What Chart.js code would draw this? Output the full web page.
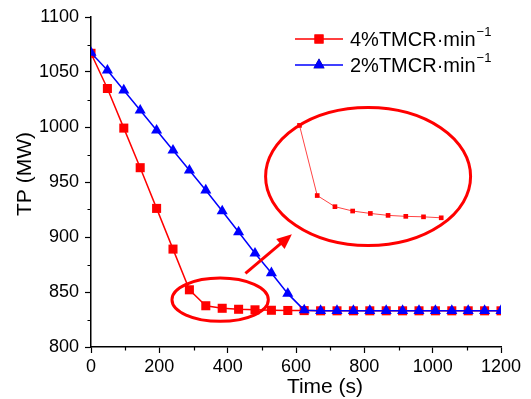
<!DOCTYPE html>
<html>
<head>
<script src="https://cdn.jsdelivr.net/npm/chart.js@4.4.0/dist/chart.umd.min.js"></script>
<title>TP ramp</title>
<style>
  body { margin: 0; background: #fff; }
  #wrap { width: 531px; height: 399px; }
</style>
</head>
<body>
<div id="wrap"><canvas id="myChart" width="531" height="399"></canvas></div>
<script>
// time axis (s)
var times = [0, 48, 96, 144, 192, 240, 288, 336, 384, 432, 480, 528, 576, 624, 672,
             720, 768, 816, 864, 912, 960, 1008, 1056, 1104, 1152, 1200];
// 4%TMCR/min
var tp4 = [1067, 1035, 999, 963, 926, 889, 852, 837.5, 835.2, 834.3, 833.8, 833.4, 833.2,
           833.1, 832.9, 832.9, 832.9, 832.9, 832.9, 832.9, 832.9, 832.9, 832.9, 832.9, 832.9, 832.9];
// 2%TMCR/min
var tp2 = [1067.6, 1051.5, 1033.4, 1015.2, 997, 978.8, 960.6, 942.5, 923.6, 904.5, 885.2,
           867.3, 848.5, 833.5, 833, 833, 833, 833, 833, 833, 833, 833, 833, 833, 833, 833];
var xTicks = [0, 200, 400, 600, 800, 1000, 1200];
var yTicks = [800, 850, 900, 950, 1000, 1050, 1100];
var labels = ['4%TMCR\u00b7min', '2%TMCR\u00b7min'];

// zoomed-in part shown in the big ellipse (points 6..14 of the 4% curve)
var insetFrom = 6, insetTo = 14;

// annotation shapes in data units
var marks = {
    small: { cx: 378, cy: 843, rx: 141, ry: 19.7 },
    big: { cx: 811, cy: 955, rx: 300, ry: 62.7 },
    arrow: { x0: 452, y0: 867, x1: 588, y1: 902.5 }
};

var FONT = 'Liberation Sans, Arial, sans-serif';

function pts(xs, ys) {
    var out = [];
    for (var i = 0; i < xs.length; i++) out.push({ x: xs[i], y: ys[i] });
    return out;
}

var decor = {
    id: 'decor',
    afterDraw: function(chart) {
        var ctx = chart.ctx;
        var sx = chart.scales.x, sy = chart.scales.y;
        var area = chart.chartArea;
        ctx.save();

        // minor ticks
        ctx.strokeStyle = '#000';
        ctx.lineWidth = 1.2;
        ctx.beginPath();
        for (var v = 100; v < 1200; v += 200) {
            var px = Math.round(sx.getPixelForValue(v)) + 0.5;
            ctx.moveTo(px, area.bottom);
            ctx.lineTo(px, area.bottom + 3.5);
        }
        for (var w = 825; w < 1100; w += 50) {
            var py = Math.round(sy.getPixelForValue(w)) + 0.5;
            ctx.moveTo(area.left, py);
            ctx.lineTo(area.left - 3.5, py);
        }
        ctx.stroke();

        // ellipses
        ctx.strokeStyle = '#ff0000';
        ctx.lineWidth = 3;
        [marks.small, marks.big].forEach(function(e) {
            var cx = sx.getPixelForValue(e.cx), cy = sy.getPixelForValue(e.cy);
            var rx = Math.abs(sx.getPixelForValue(e.cx + e.rx) - cx);
            var ry = Math.abs(sy.getPixelForValue(e.cy + e.ry) - cy);
            ctx.beginPath();
            ctx.ellipse(cx, cy, rx, ry, 0, 0, Math.PI * 2);
            ctx.stroke();
        });

        // arrow
        var a = marks.arrow;
        var x0 = sx.getPixelForValue(a.x0), y0 = sy.getPixelForValue(a.y0);
        var x1 = sx.getPixelForValue(a.x1), y1 = sy.getPixelForValue(a.y1);
        var ang = Math.atan2(y1 - y0, x1 - x0);
        var head = 15;
        ctx.beginPath();
        ctx.moveTo(x0, y0);
        ctx.lineTo(x1 - Math.cos(ang) * head * 0.8, y1 - Math.sin(ang) * head * 0.8);
        ctx.stroke();
        ctx.fillStyle = '#ff0000';
        ctx.beginPath();
        ctx.moveTo(x1, y1);
        ctx.lineTo(x1 - head * Math.cos(ang) + 6.5 * Math.sin(ang), y1 - head * Math.sin(ang) - 6.5 * Math.cos(ang));
        ctx.lineTo(x1 - head * Math.cos(ang) - 6.5 * Math.sin(ang), y1 - head * Math.sin(ang) + 6.5 * Math.cos(ang));
        ctx.closePath();
        ctx.fill();

        // legend
        var lx0 = 295, lx1 = 343, tx = 350;
        var rowsY = [39, 65];
        for (var i = 0; i < 2; i++) {
            var ds = chart.data.datasets[i];
            var y = rowsY[i];
            ctx.strokeStyle = ds.borderColor;
            ctx.lineWidth = 1.5;
            ctx.beginPath();
            ctx.moveTo(lx0, y);
            ctx.lineTo(lx1, y);
            ctx.stroke();
            Chart.helpers.drawPoint(ctx, {
                pointStyle: ds.pointStyle, radius: ds.pointRadius, borderWidth: 0
            }, (lx0 + lx1) / 2, y);
            ctx.fillStyle = ds.backgroundColor;
            ctx.fill();
            ctx.fillStyle = '#000';
            ctx.textBaseline = 'middle';
            ctx.textAlign = 'left';
            ctx.font = '20px ' + FONT;
            ctx.fillText(labels[i], tx, y + 1);
            var wdt = ctx.measureText(labels[i]).width;
            ctx.font = '13px ' + FONT;
            ctx.fillText('\u22121', tx + wdt + 1, y - 7);
        }

        // axis titles
        ctx.fillStyle = '#000';
        ctx.font = '21px ' + FONT;
        ctx.textAlign = 'center';
        ctx.textBaseline = 'middle';
        ctx.fillText('Time (s)', 325, 387);
        ctx.translate(25, 174);
        ctx.rotate(-Math.PI / 2);
        ctx.fillText('TP (MW)', 0, 0);
        ctx.restore();
    }
};

function plain(v) { return String(v); }

var ctx = document.getElementById('myChart').getContext('2d');
var myChart = new Chart(ctx, {
    type: 'line',
    data: {
        datasets: [
            {
                label: labels[0],
                data: pts(times, tp4),
                borderColor: '#ff0000',
                backgroundColor: '#ff0000',
                borderWidth: 1.5,
                pointStyle: 'rect',
                pointRadius: 6.4,
                pointBorderWidth: 0,
                order: 2
            },
            {
                label: labels[1],
                data: pts(times, tp2),
                borderColor: '#0000ff',
                backgroundColor: '#0000ff',
                borderWidth: 1.5,
                pointStyle: 'triangle',
                pointRadius: 6.4,
                pointBorderWidth: 0,
                order: 1
            },
            {
                label: 'inset',
                data: pts(times.slice(insetFrom, insetTo + 1), tp4.slice(insetFrom, insetTo + 1)),
                xAxisID: 'xi',
                yAxisID: 'yi',
                borderColor: '#ff4444',
                backgroundColor: '#ff0000',
                borderWidth: 1,
                pointStyle: 'rect',
                pointRadius: 3.3,
                pointBorderWidth: 0,
                order: 3
            }
        ]
    },
    options: {
        responsive: false,
        animation: false,
        layout: { padding: { top: 17, right: 30, left: 0, bottom: 0 } },
        plugins: {
            legend: { display: false },
            tooltip: { enabled: false }
        },
        scales: {
            x: {
                type: 'linear',
                min: 0,
                max: 1200,
                afterBuildTicks: function(s) { s.ticks = xTicks.map(function(v) { return { value: v }; }); },
                afterFit: function(s) { s.height = 52; },
                ticks: { color: '#000', font: { family: FONT, size: 18 }, padding: 3, maxRotation: 0, callback: plain },
                grid: { drawOnChartArea: false, tickLength: 6, tickColor: '#000', tickWidth: 1.2 },
                border: { color: '#000', width: 1.5 }
            },
            y: {
                min: 800,
                max: 1100,
                afterBuildTicks: function(s) { s.ticks = yTicks.map(function(v) { return { value: v }; }); },
                afterFit: function(s) { s.width = 91; },
                ticks: { color: '#000', font: { family: FONT, size: 18 }, padding: 6, callback: plain },
                grid: { drawOnChartArea: false, tickLength: 6, tickColor: '#000', tickWidth: 1.2 },
                border: { color: '#000', width: 1.5 }
            },
            xi: { type: 'linear', display: false, min: -277, max: 834 },
            yi: { type: 'linear', display: false, min: 806.2, max: 874.4 }
        }
    },
    plugins: [decor]
});
</script>
</body>
</html>
